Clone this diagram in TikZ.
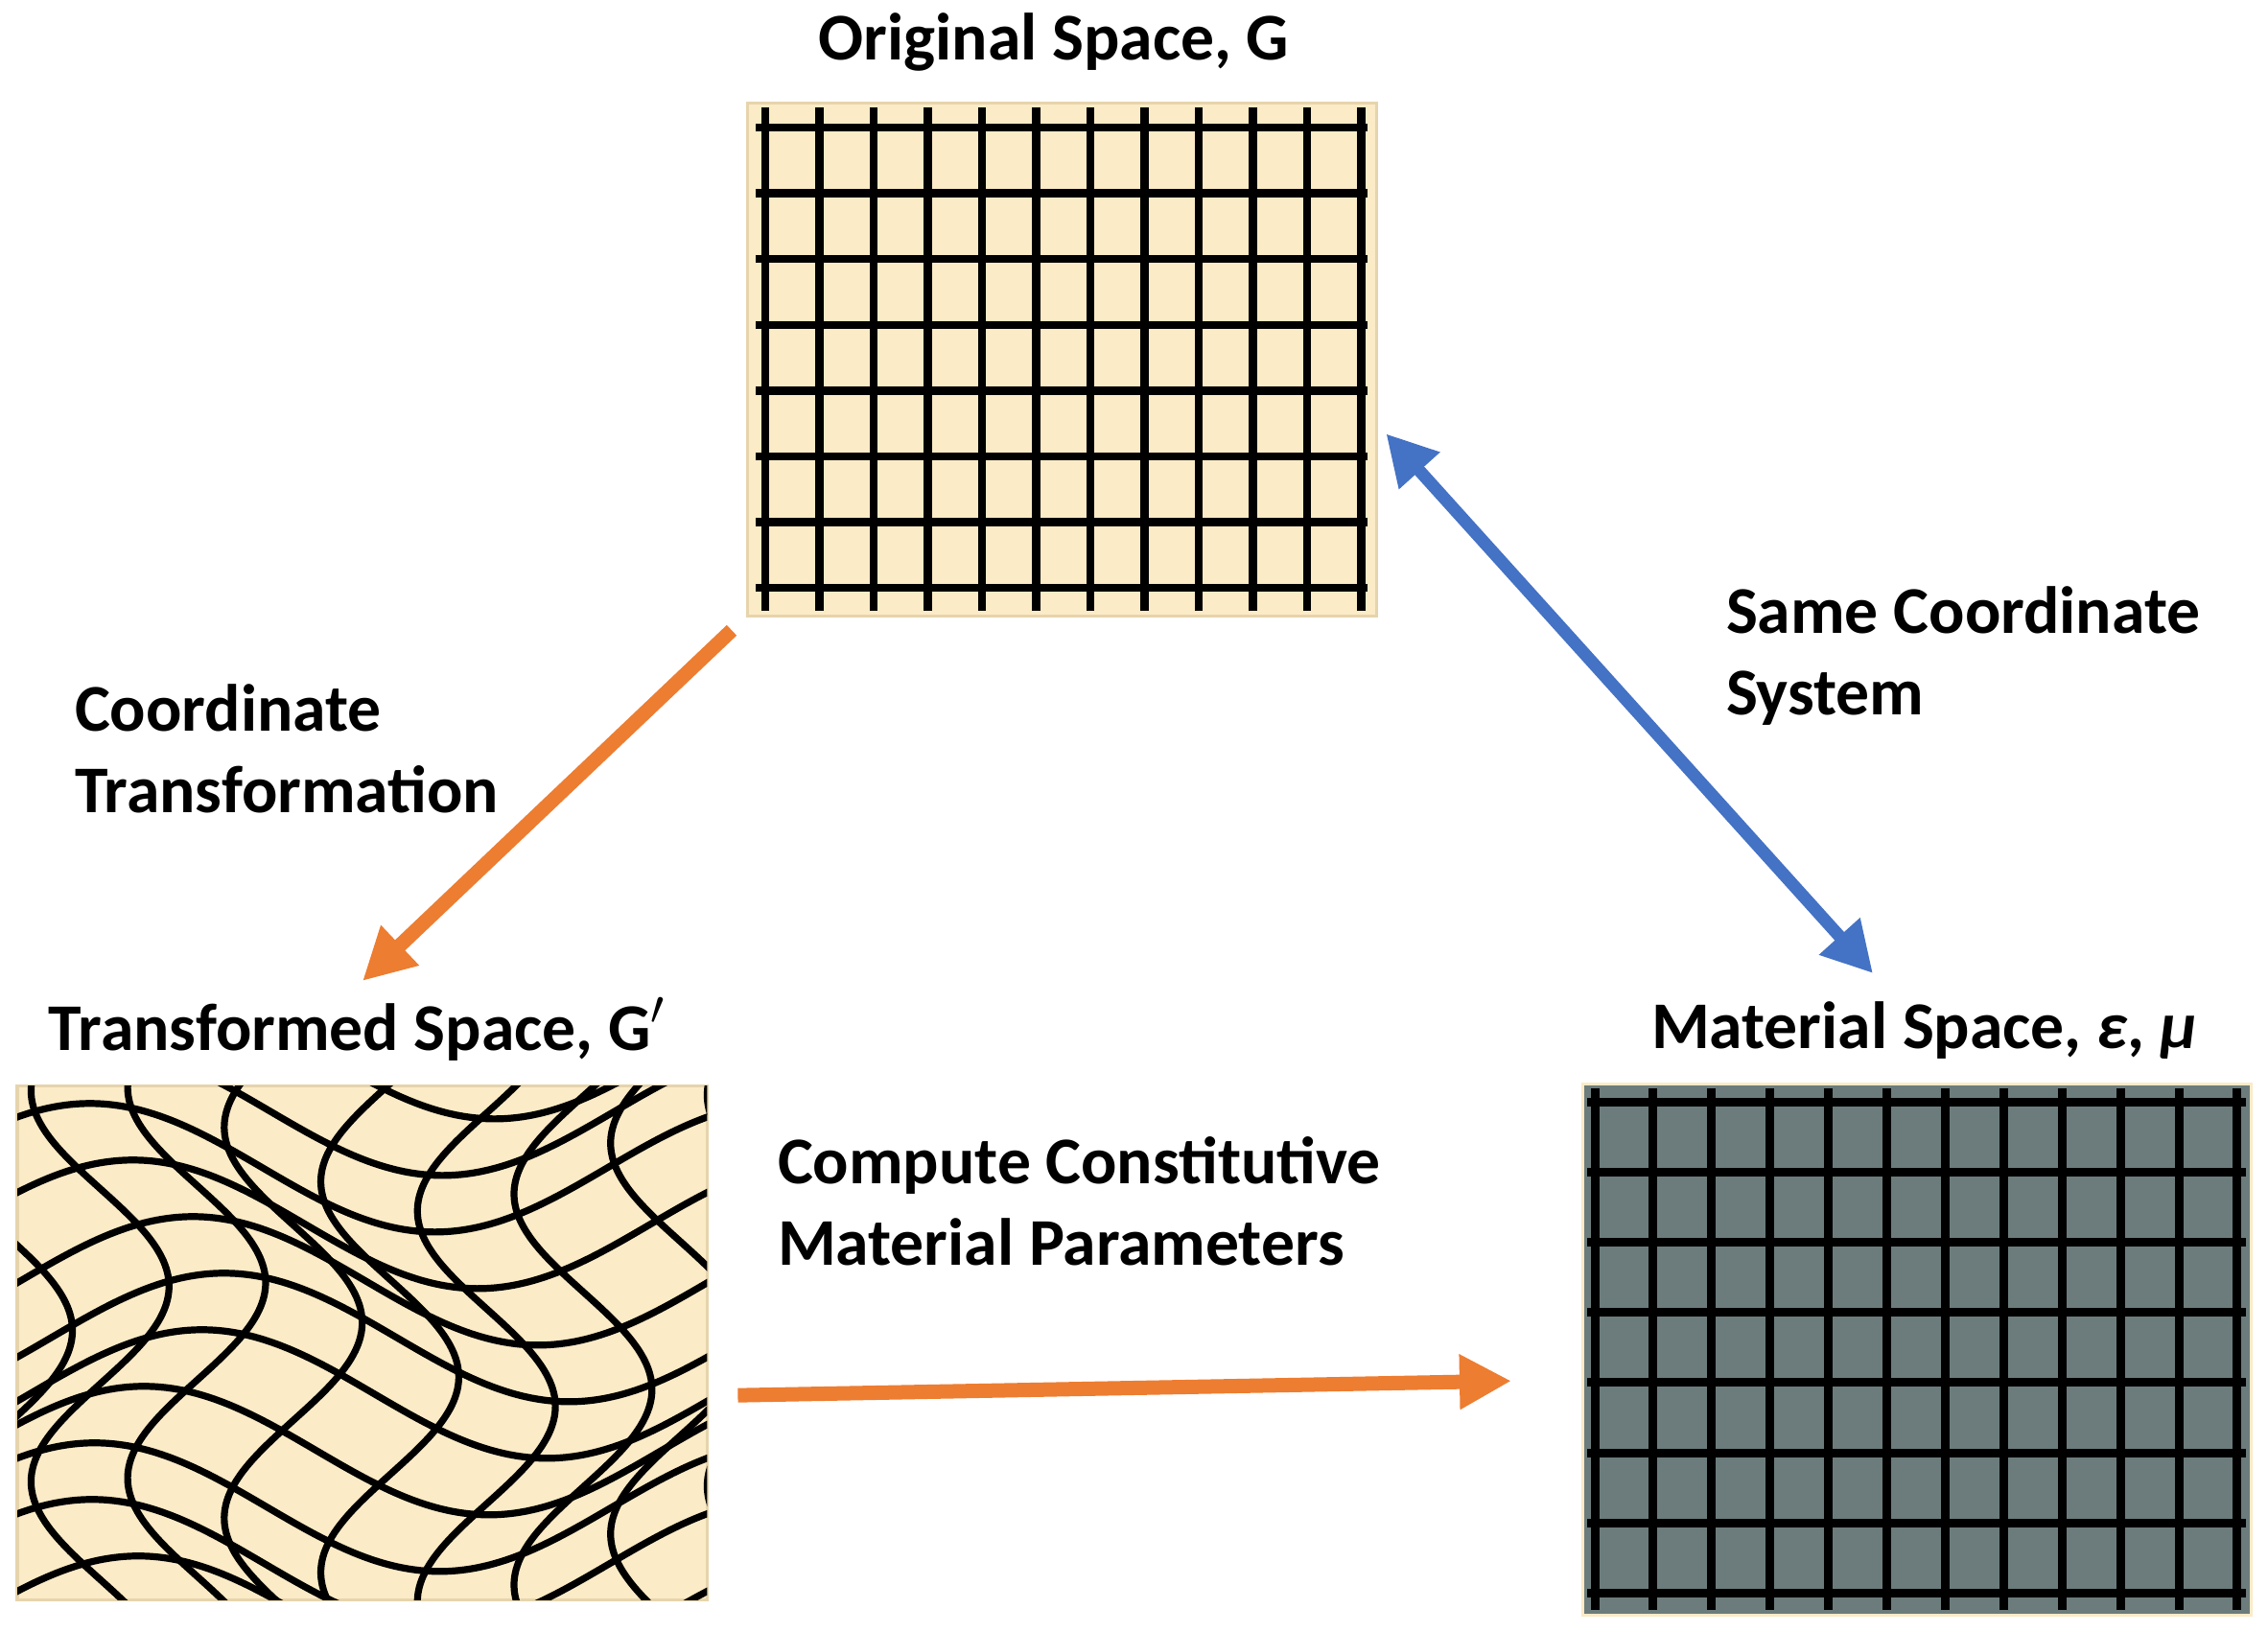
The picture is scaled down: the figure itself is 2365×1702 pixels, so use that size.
\documentclass[tikz,border=0pt]{standalone}
\usepackage{fontspec}
\setmainfont{Carlito}
\usetikzlibrary{arrows.meta,calc}
\definecolor{cream}{HTML}{FBEBC6}
\definecolor{creamedge}{HTML}{E6D4AC}
\definecolor{slate}{HTML}{6C7C7C}
\definecolor{orangeA}{HTML}{ED7D31}
\definecolor{blueA}{HTML}{4472C4}
\begin{document}
\begin{tikzpicture}[x=0.01cm,y=-0.01cm,
  lab/.style={font=\bfseries\fontsize{19.8}{24}\selectfont, inner sep=0pt, outer sep=0pt, anchor=base west},
  panelbox/.style={draw=creamedge, line width=0.03cm, inner sep=0pt, outer sep=0pt, anchor=north west},
  gridline/.style={line width=0.085cm, black},
  matline/.style={line width=0.09cm, black},
  wline/.style={line width=0.072cm, black},
  oarrow/.style={draw=orangeA, line width=0.15cm, -{Triangle[length=0.54cm, width=0.54cm]}},
  barrow/.style={draw=blueA, line width=0.13cm, {Triangle[length=0.52cm, width=0.54cm]}-{Triangle[length=0.52cm, width=0.54cm]}},
  declare function={gx(\a,\b)=\a+0.10*sin(360*(\b-0.12)/0.76-90);
                    gy(\a,\b)=\b+0.125*sin(360*(\a-0.2)-90);}
]
\fill[white] (0,0) rectangle (2365,1702);
\useasboundingbox (0,0) rectangle (2365,1702);

% ---------- Original space ----------
\node[panelbox, fill=cream, minimum width=6.56cm, minimum height=5.35cm] (orig) at (779,107) {};
\foreach \i in {0,...,11} \draw[gridline] ({798+56.5*\i},112) -- ({798+56.5*\i},637);
\foreach \j in {0,...,7} \draw[gridline] (788,{133+68.6*\j}) -- (1426,{133+68.6*\j});
\node[lab, anchor=base] (torig) at (1099,62) {Original Space, G};

% ---------- Transformed space ----------
\node[panelbox, fill=cream, minimum width=7.19cm, minimum height=5.36cm] (trans) at (18,1132) {};
\begin{scope}[shift={(trans.north west)}, x=7.19cm, y=-5.36cm]
  \clip (0,0) rectangle (1,1);
  \foreach \u in {-0.16,-0.02,0.12,0.26,0.40,0.54,0.68,0.82,0.96,1.10}
    \draw[wline] plot[variable=\t, domain=-0.25:1.25, samples=110, smooth] ({gx(\u,\t)},{gy(\u,\t)});
  \foreach \v in {-0.17,-0.06,0.05,0.16,0.27,0.38,0.49,0.60,0.71,0.82,0.93,1.04,1.15}
    \draw[wline] plot[variable=\t, domain=-0.25:1.25, samples=110, smooth] ({gx(\t,\v)},{gy(\t,\v)});
\end{scope}
\node[lab] (ttrans) at (51,1095) {Transformed Space, G$'$};

% ---------- Material space ----------
\node[panelbox, fill=slate, draw=cream, minimum width=6.97cm, minimum height=5.54cm] (mat) at (1650,1130) {};
\foreach \i in {0,...,11} \draw[matline] ({1663+60.9*\i},1135) -- ({1663+60.9*\i},1679);
\foreach \j in {0,...,7} \draw[matline] (1655,{1149+73.2*\j}) -- (2342,{1149+73.2*\j});
\node[lab] (tmat) at (1722,1093) {Material Space, {\itshape ε}, {\itshape μ}};

% ---------- Labels ----------
\node[lab] (ct1) at (78,762) {Coordinate};
\node[lab] (ct2) at (78,847) {Transformation};
\node[lab] (sc1) at (1800,660) {Same Coordinate};
\node[lab] (sc2) at (1800,745) {System};
\node[lab] (cc1) at (811,1234) {Compute Constitutive};
\node[lab] (cc2) at (811,1319) {Material Parameters};

% ---------- Connectors ----------
\coordinate (a1s) at ($(orig.south west)+(-16,15)$);
\coordinate (a1e) at ($(trans.north west)+(360,-109)$);
\draw[oarrow] (a1s) -- (a1e);

\coordinate (b1) at ($(orig.south east)+(10,-190)$);
\coordinate (b2) at ($(mat.north west)+(303,-115)$);
\draw[barrow] (b1) -- (b2);

\coordinate (c1) at ($(trans.east)+(32,55)$);
\coordinate (c2) at ($(mat.west)+(-74,33)$);
\draw[oarrow] (c1) -- (c2);
\end{tikzpicture}
\end{document}
